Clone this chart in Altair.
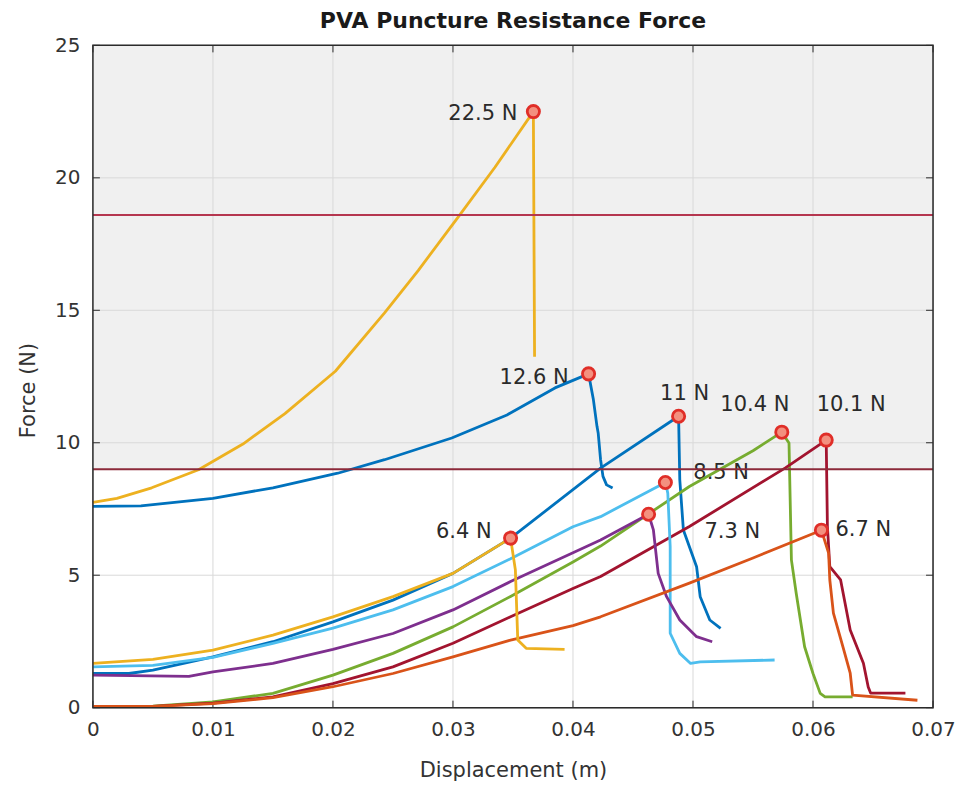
import altair as alt
import pandas as pd

# ---------------- data ----------------
x_ticks = [0, 0.01, 0.02, 0.03, 0.04, 0.05, 0.06, 0.07]
y_ticks = [0, 5, 10, 15, 20, 25]
x_lim = [0, 0.07]
y_lim = [0, 25]

# threshold lines and shaded band
upper_line = [18.6]
lower_line = [9.0]
shade_from = [9.0]

# curve 1 (yellow, 22.5 N)
c1_x = [0, 0.002, 0.0049, 0.0088, 0.0125, 0.016, 0.0202, 0.0243, 0.0271, 0.0304, 0.0335, 0.0367, 0.0368]
c1_y = [7.75, 7.9, 8.3, 8.98, 9.95, 11.1, 12.7, 14.9, 16.5, 18.5, 20.4, 22.5, 13.25]
# curve 2 (blue, 12.6 N)
c2_x = [0, 0.004, 0.01, 0.015, 0.0204, 0.0243, 0.0299, 0.0345, 0.0385, 0.0413, 0.0417, 0.042, 0.0421, 0.0423, 0.0425, 0.0428, 0.0433]
c2_y = [7.6, 7.62, 7.9, 8.3, 8.85, 9.36, 10.18, 11.05, 12.07, 12.6, 11.63, 10.62, 10.37, 9.36, 8.73, 8.41, 8.29]
# curve 3 (blue, 11 N)
c3_x = [0, 0.003, 0.005, 0.01, 0.015, 0.02, 0.025, 0.03, 0.0348, 0.0423, 0.0488, 0.0489, 0.0492, 0.0503, 0.0506, 0.0514, 0.0523]
c3_y = [1.29, 1.29, 1.42, 1.92, 2.49, 3.24, 4.06, 5.07, 6.4, 9.04, 11.0, 8.6, 6.71, 5.32, 4.19, 3.31, 2.99]
# curve 4 (green, 10.4 N)
c4_x = [0, 0.005, 0.01, 0.015, 0.02, 0.025, 0.03, 0.0348, 0.04, 0.0423, 0.0497, 0.055, 0.0574, 0.058, 0.0582, 0.0586, 0.0593, 0.06, 0.0606, 0.061, 0.0633]
c4_y = [0.05, 0.06, 0.22, 0.54, 1.23, 2.05, 3.05, 4.2, 5.5, 6.1, 8.35, 9.7, 10.4, 9.99, 5.58, 4.32, 2.3, 1.29, 0.54, 0.41, 0.41]
# curve 5 (dark red, 10.1 N)
c5_x = [0, 0.005, 0.01, 0.015, 0.02, 0.025, 0.03, 0.0348, 0.04, 0.0423, 0.0497, 0.0577, 0.0611, 0.0612, 0.0614, 0.0623, 0.0631, 0.0642, 0.0646, 0.0648, 0.0677]
c5_y = [0.05, 0.05, 0.17, 0.41, 0.91, 1.54, 2.43, 3.43, 4.5, 4.95, 6.84, 9.05, 10.1, 6.84, 5.32, 4.82, 2.93, 1.68, 0.78, 0.55, 0.55]
# curve 6 (light blue, 8.5 N)
c6_x = [0, 0.005, 0.01, 0.015, 0.02, 0.025, 0.03, 0.0348, 0.04, 0.0423, 0.0477, 0.0479, 0.0481, 0.0481, 0.0489, 0.0498, 0.0506, 0.0568]
c6_y = [1.54, 1.6, 1.9, 2.43, 3.0, 3.69, 4.57, 5.62, 6.83, 7.21, 8.5, 8.1, 6.08, 2.81, 2.05, 1.67, 1.73, 1.8]
# curve 7 (purple, 7.3 N)
c7_x = [0, 0.008, 0.01, 0.015, 0.02, 0.025, 0.03, 0.0348, 0.04, 0.0423, 0.0463, 0.0467, 0.0471, 0.0478, 0.0489, 0.0503, 0.0516]
c7_y = [1.23, 1.18, 1.35, 1.67, 2.2, 2.8, 3.69, 4.76, 5.85, 6.33, 7.3, 6.71, 5.07, 4.19, 3.31, 2.68, 2.49]
# curve 8 (orange, 6.7 N)
c8_x = [0, 0.005, 0.01, 0.015, 0.02, 0.025, 0.03, 0.0348, 0.04, 0.0423, 0.0497, 0.055, 0.0607, 0.0613, 0.0614, 0.0617, 0.0625, 0.0631, 0.0633, 0.0687]
c8_y = [0.05, 0.05, 0.15, 0.38, 0.79, 1.29, 1.92, 2.55, 3.1, 3.43, 4.7, 5.65, 6.7, 5.84, 4.82, 3.57, 2.29, 1.3, 0.47, 0.28]
# curve 9 (yellow, 6.4 N)
c9_x = [0, 0.005, 0.01, 0.015, 0.02, 0.025, 0.03, 0.0348, 0.0352, 0.0354, 0.0361, 0.0393]
c9_y = [1.67, 1.82, 2.17, 2.74, 3.43, 4.19, 5.07, 6.4, 5.2, 2.55, 2.24, 2.2]

series_names = ["c1", "c2", "c3", "c4", "c5", "c6", "c7", "c8", "c9"]
series_colors = ["#EDB120", "#0072BD", "#0072BD", "#77AC30", "#A2142F",
                 "#4DBEEE", "#7E2F8E", "#D95319", "#EDB120"]

peak_x = [0.0367, 0.0413, 0.0488, 0.0574, 0.0611, 0.0477, 0.0463, 0.0607, 0.0348]
peak_y = [22.5, 12.6, 11.0, 10.4, 10.1, 8.5, 7.3, 6.7, 6.4]
peak_labels = ["22.5 N", "12.6 N", "11 N", "10.4 N", "10.1 N", "8.5 N", "7.3 N", "6.7 N", "6.4 N"]

# ---------------- build tables ----------------
curves = [(c1_x, c1_y), (c2_x, c2_y), (c3_x, c3_y), (c4_x, c4_y), (c5_x, c5_y),
          (c6_x, c6_y), (c7_x, c7_y), (c8_x, c8_y), (c9_x, c9_y)]
rows = []
for name, (xs, ys) in zip(series_names, curves):
    for i, (xv, yv) in enumerate(zip(xs, ys)):
        rows.append({"series": name, "i": i, "x": xv, "y": yv})
curve_df = pd.DataFrame(rows)

peaks_df = pd.DataFrame({"x": peak_x, "y": peak_y, "label": peak_labels})
xt_df = pd.DataFrame({"x": x_ticks})
yt_df = pd.DataFrame({"y": y_ticks})
up_df = pd.DataFrame({"y": upper_line})
low_df = pd.DataFrame({"y": lower_line})
shade_df = pd.DataFrame({"x": [x_lim[0]], "x2": [x_lim[1]], "y": shade_from, "y2": [y_lim[1]]})
frame_df = pd.DataFrame({"x": [x_lim[0]], "x2": [x_lim[1]], "y": [y_lim[0]], "y2": [y_lim[1]]})

W, H = 841, 663
FONT = "DejaVu Sans"
xscale = alt.Scale(domain=x_lim, nice=False, zero=False)
yscale = alt.Scale(domain=y_lim, nice=False, zero=False)

X = alt.X("x:Q", scale=xscale,
          axis=alt.Axis(values=x_ticks, format=".2~f", grid=False, domain=False, ticks=False,
                        labelFlush=False, labelOverlap=False,
                        labelPadding=12, labelFontSize=20, labelColor="#333333", labelFont=FONT,
                        title="Displacement (m)", titleFontSize=21, titleFontWeight="normal",
                        titleColor="#333333", titleFont=FONT, titlePadding=20))
Y = alt.Y("y:Q", scale=yscale,
          axis=alt.Axis(values=y_ticks, grid=False, domain=False, ticks=False,
                        labelFlush=False, labelOverlap=False,
                        labelPadding=13, labelFontSize=20, labelColor="#333333", labelFont=FONT,
                        title="Force (N)", titleFontSize=21, titleFontWeight="normal",
                        titleColor="#333333", titleFont=FONT, titlePadding=16, titleY=345))

shade = alt.Chart(shade_df).mark_rect(color="#F0F0F0").encode(
    x=X, x2="x2:Q", y=Y, y2="y2:Q")

vgrid = alt.Chart(xt_df).mark_rule(color="#D9D9D9", strokeWidth=1).encode(
    x=alt.X("x:Q", scale=xscale))
hgrid = alt.Chart(yt_df).mark_rule(color="#D9D9D9", strokeWidth=1).encode(
    y=alt.Y("y:Q", scale=yscale))

# small inward tick marks on all four sides (MATLAB style)
TICK = 7
tick_color = "#2b2b2b"
xt_bottom = alt.Chart(xt_df).mark_rule(color=tick_color, strokeWidth=1).encode(
    x=alt.X("x:Q", scale=xscale), y=alt.value(H), y2=alt.value(H - TICK))
xt_top = alt.Chart(xt_df).mark_rule(color=tick_color, strokeWidth=1).encode(
    x=alt.X("x:Q", scale=xscale), y=alt.value(0), y2=alt.value(TICK))
yt_left = alt.Chart(yt_df).mark_rule(color=tick_color, strokeWidth=1).encode(
    y=alt.Y("y:Q", scale=yscale), x=alt.value(0), x2=alt.value(TICK))
yt_right = alt.Chart(yt_df).mark_rule(color=tick_color, strokeWidth=1).encode(
    y=alt.Y("y:Q", scale=yscale), x=alt.value(W), x2=alt.value(W - TICK))

placements = {
    "22.5 N": dict(align="right", dx=-16, dy=2),
    "12.6 N": dict(align="right", dx=-20, dy=4),
    "11 N": dict(align="center", dx=6, dy=-22),
    "10.4 N": dict(align="center", dx=-27, dy=-27),
    "10.1 N": dict(align="center", dx=25, dy=-35),
    "8.5 N": dict(align="left", dx=28, dy=-9),
    "7.3 N": dict(align="left", dx=56, dy=18),
    "6.7 N": dict(align="left", dx=14, dy=0),
    "6.4 N": dict(align="right", dx=-19, dy=-6),
}
label_layers = []
for lab in peak_labels:
    p = placements[lab]
    label_layers.append(
        alt.Chart(peaks_df).transform_filter(alt.datum.label == lab).mark_text(
            align=p["align"], baseline="middle", dx=p["dx"], dy=p["dy"],
            font=FONT, fontSize=21, color="#2a2a2a"
        ).encode(x=alt.X("x:Q", scale=xscale), y=alt.Y("y:Q", scale=yscale), text="label:N")
    )

lines = alt.Chart(curve_df).mark_line(strokeWidth=2.8, strokeJoin="round").encode(
    x=alt.X("x:Q", scale=xscale),
    y=alt.Y("y:Q", scale=yscale),
    color=alt.Color("series:N", scale=alt.Scale(domain=series_names, range=series_colors), legend=None),
    order="i:Q",
)

upper = alt.Chart(up_df).mark_rule(strokeWidth=2, color="#B5364F").encode(y=alt.Y("y:Q", scale=yscale))
lower = alt.Chart(low_df).mark_rule(strokeWidth=2, color="#8C2A3A").encode(y=alt.Y("y:Q", scale=yscale))

markers = alt.Chart(peaks_df).mark_point(
    shape="circle", filled=True, size=150, fill="#F3907F", stroke="#E02E28", strokeWidth=2.8, opacity=1
).encode(x=alt.X("x:Q", scale=xscale), y=alt.Y("y:Q", scale=yscale))

frame = alt.Chart(frame_df).mark_rect(filled=False, stroke="#2b2b2b", strokeWidth=1.5).encode(
    x=alt.X("x:Q", scale=xscale), x2="x2:Q", y=alt.Y("y:Q", scale=yscale), y2="y2:Q")

chart = alt.layer(shade, vgrid, hgrid, xt_bottom, xt_top, yt_left, yt_right,
                  *label_layers, lines, upper, lower, markers, frame).properties(
    width=W, height=H,
    title=alt.TitleParams("PVA Puncture Resistance Force", font=FONT, fontSize=22, fontWeight="bold",
                          color="#1a1a1a", anchor="middle", offset=2),
    autosize=alt.AutoSizeParams(type="none"),
    padding={"left": 85, "top": 37, "right": 24, "bottom": 80},
).configure_view(stroke=None).configure(background="white")

chart.save("out.html", embed_options={"renderer": "svg", "actions": False})
